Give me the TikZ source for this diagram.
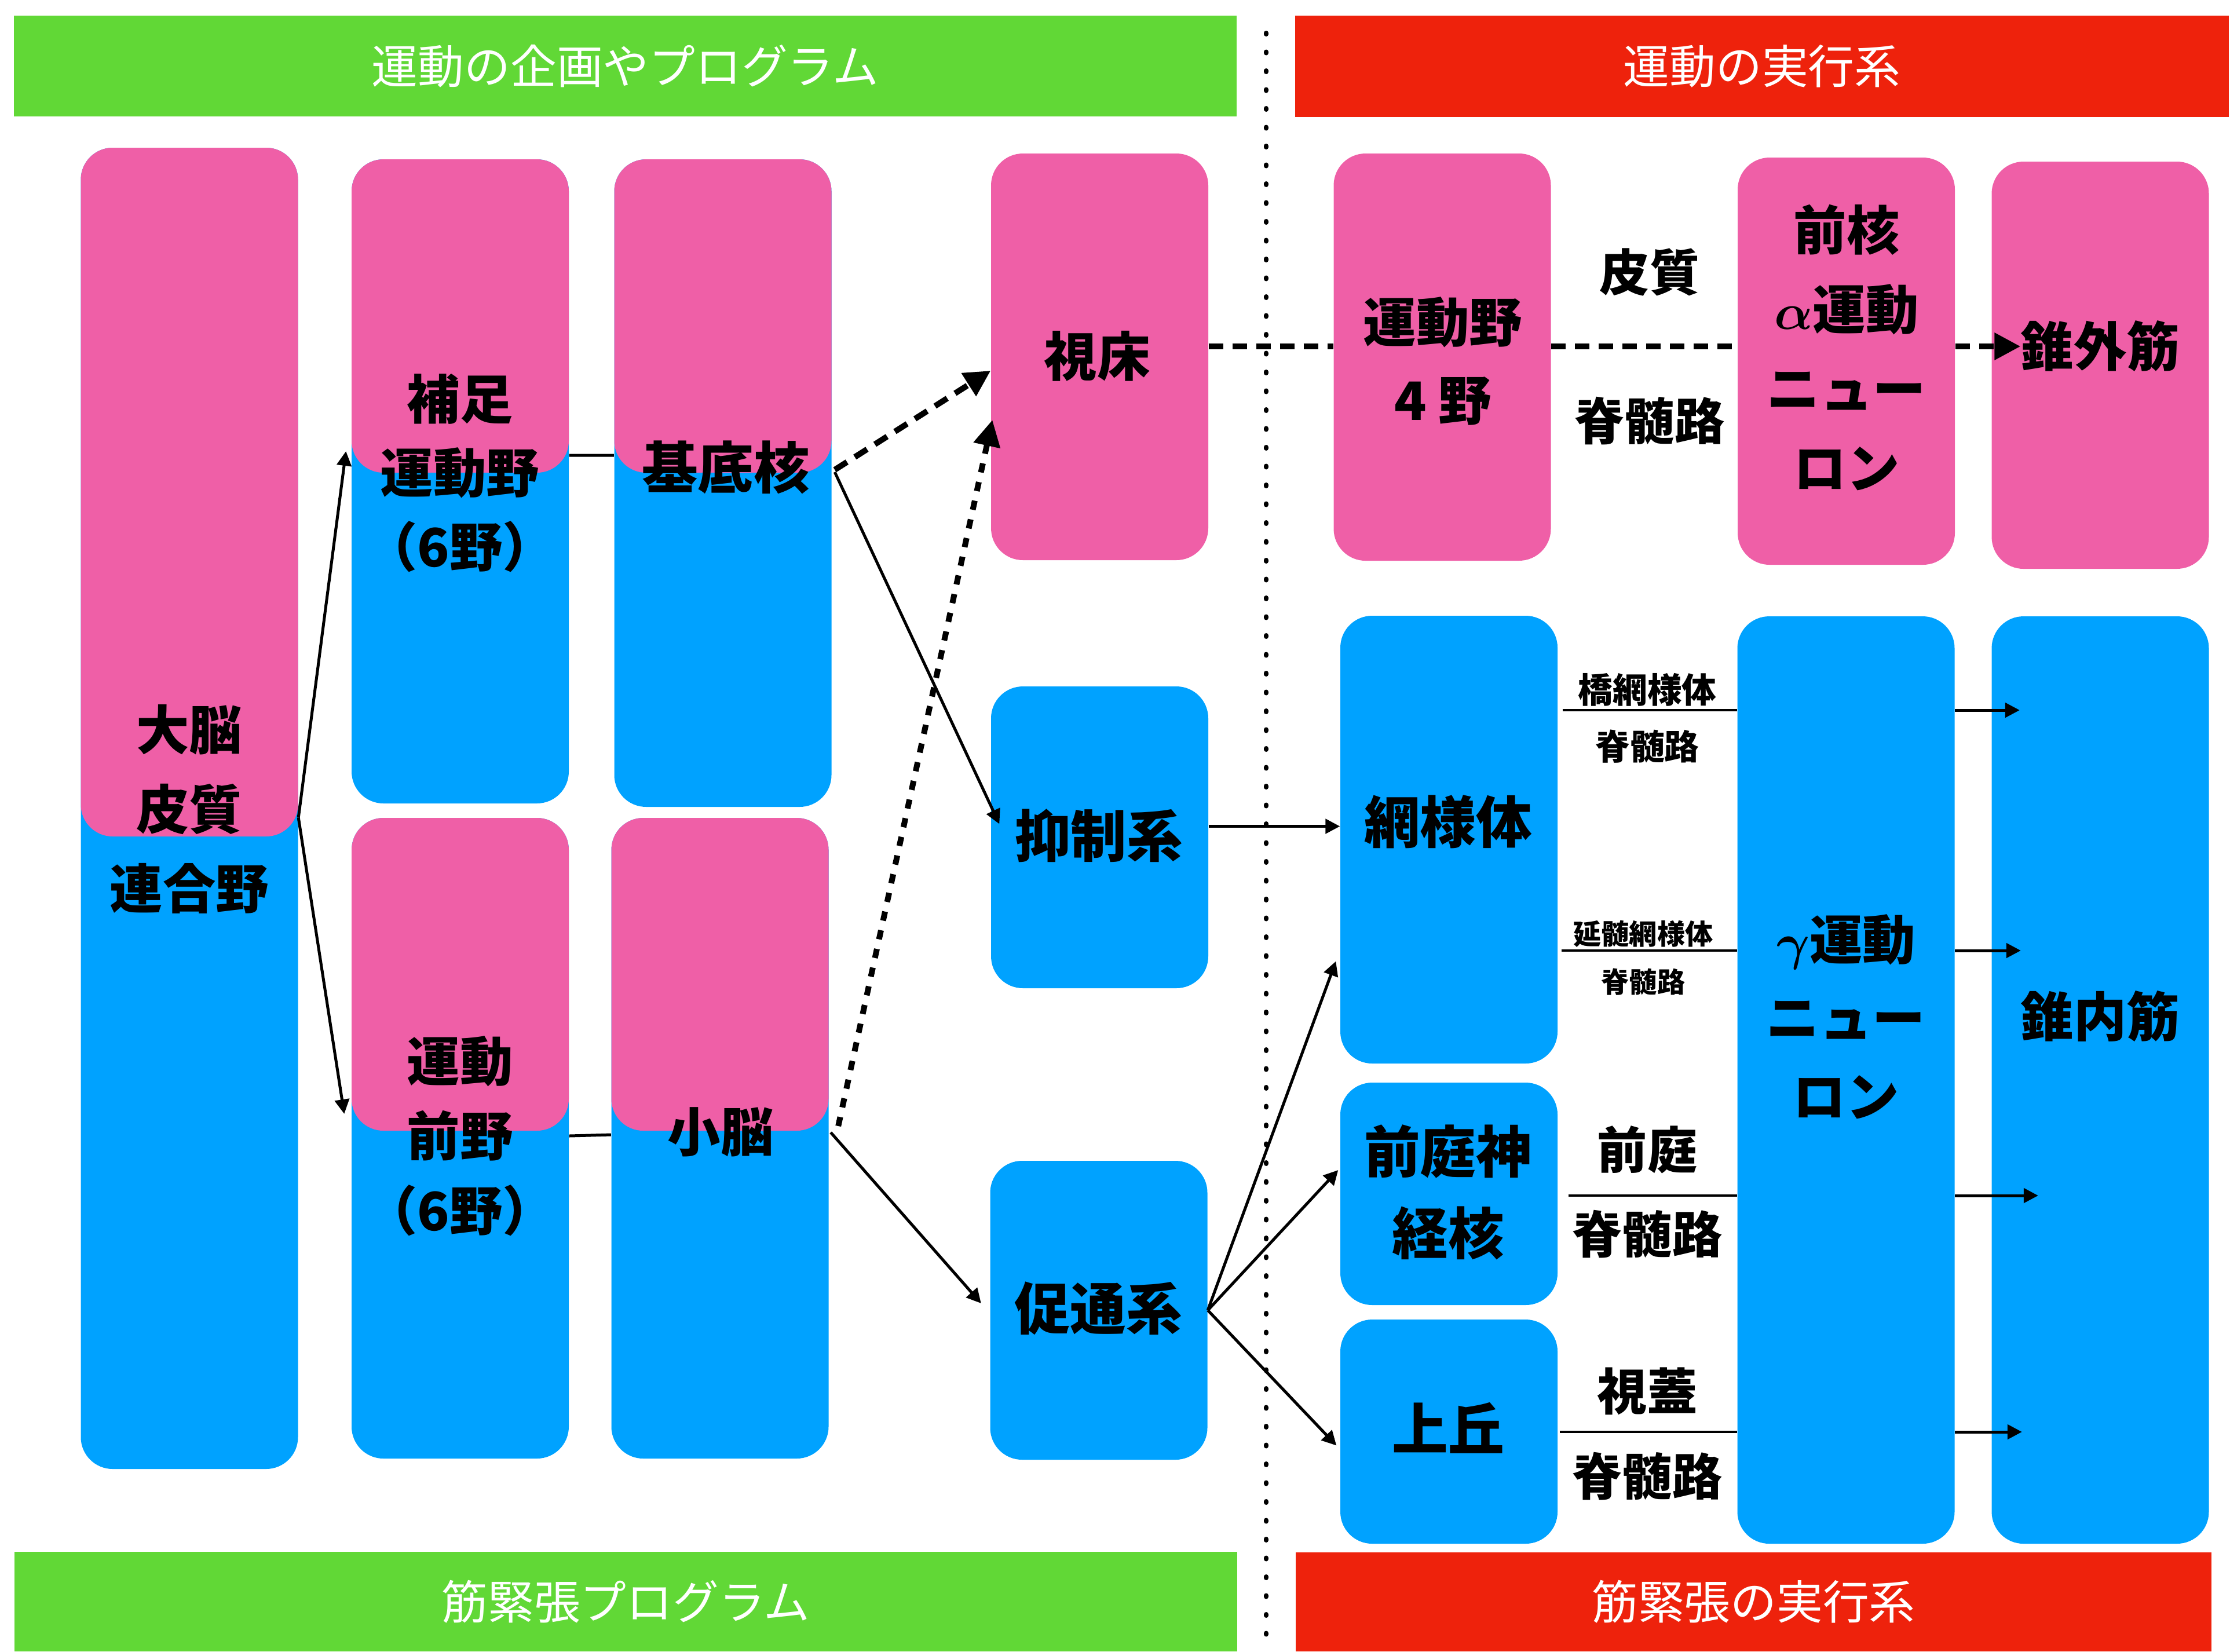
\documentclass[tikz,border=0pt]{standalone}
\usepackage{fontspec}
\usepackage{tikz}
\usetikzlibrary{arrows.meta}
\newfontfamily\jp{Noto Sans CJK JP}
\definecolor{pinkbox}{RGB}{239,95,167}
\definecolor{bluebox}{RGB}{0,162,255}
\definecolor{greenbar}{RGB}{97,216,54}
\definecolor{redbar}{RGB}{238,34,12}
\newcommand{\al}{{\boldmath$\alpha$}}
\newcommand{\ga}{{\boldmath$\gamma$}}

\tikzset{
  bx/.style={rounded corners=0.55cm, inner sep=0pt, minimum width=3.75cm},
  pinkbx/.style={bx, fill=pinkbox},
  bluebx/.style={bx, fill=bluebox},
  bar/.style={inner sep=0pt, text=white, font=\jp\fontsize{22.7}{27}\selectfont},
  lbl/.style={align=center, inner sep=0pt, font=\jp\bfseries\fontsize{26}{39}\selectfont},
  biglbl/.style={lbl, font=\jp\bfseries\fontsize{27.5}{40}\selectfont},
  trlbl/.style={lbl, font=\jp\bfseries\fontsize{24.5}{30}\selectfont},
  smlbl/.style={lbl, font=\jp\bfseries\fontsize{17}{20}\selectfont},
  tnlbl/.style={lbl, font=\jp\bfseries\fontsize{13.7}{16}\selectfont},
  arr/.style={line width=0.05cm, -{Triangle[length=0.25cm,width=0.25cm]}},
  tract/.style={line width=0.045cm},
  dashline/.style={line width=0.1cm, dash pattern=on 0.25cm off 0.16cm},
  dasharr/.style={dashline, -{Triangle[length=0.45cm,width=0.45cm]}},
  dotarr/.style={line width=0.1cm, dash pattern=on 0.16cm off 0.17cm, -{Triangle[length=0.45cm,width=0.45cm]}},
  sepline/.style={line width=0.08cm, line cap=round, dash pattern=on 0.02cm off 0.305cm}
}

\begin{document}
\begin{tikzpicture}
                \useasboundingbox (0,0) rectangle (38.5,-28.51);

                \node[bar, fill=greenbar, minimum width=21.11cm, minimum height=1.74cm] (plantop) at (10.795,-1.14) {運動の企画やプログラム};
                \node[bar, fill=redbar, minimum width=16.12cm, minimum height=1.75cm] (exectop) at (30.42,-1.145) {運動の実行系};
                \node[bar, fill=greenbar, minimum width=21.11cm, minimum height=1.72cm] (planbot) at (10.805,-27.65) {筋緊張プログラム};
                \node[bar, fill=redbar, minimum width=15.81cm, minimum height=1.71cm] (execbot) at (30.275,-27.655) {筋緊張の実行系};

                \coordinate (septop) at (21.86,-0.57);
                \coordinate (sepbot) at (21.86,-28.51);
                \draw[sepline] (septop) -- (sepbot);

                \node[bluebx, minimum height=22.81cm] (cortex) at (3.27,-13.955) {};
                \node[pinkbx, minimum height=11.89cm] (cortexP) at (3.27,-8.495) {};
                \node[bluebx, minimum height=11.12cm] (sma) at (7.945,-8.31) {};
                \node[pinkbx, minimum height=5.41cm] (smaP) at (7.945,-5.455) {};
                \node[bluebx, minimum height=11.18cm] (bg) at (12.48,-8.34) {};
                \node[pinkbx, minimum height=5.41cm] (bgP) at (12.48,-5.455) {};
                \node[bluebx, minimum height=11.06cm] (pm) at (7.945,-19.65) {};
                \node[pinkbx, minimum height=5.40cm] (pmP) at (7.945,-16.82) {};
                \node[bluebx, minimum height=11.06cm] (cb) at (12.43,-19.65) {};
                \node[pinkbx, minimum height=5.40cm] (cbP) at (12.43,-16.82) {};
                \node[pinkbx, minimum height=7.02cm] (thal) at (18.985,-6.16) {};
                \node[bluebx, minimum height=5.21cm] (inh) at (18.985,-14.455) {};
                \node[bluebx, minimum height=5.16cm] (fac) at (18.97,-22.62) {};
                \node[pinkbx, minimum height=7.03cm] (m1) at (24.90,-6.165) {};
                \node[pinkbx, minimum height=7.03cm] (alpha) at (31.875,-6.235) {};
                \node[pinkbx, minimum height=7.03cm] (extra) at (36.26,-6.305) {};
                \node[bluebx, minimum height=7.73cm] (ret) at (25.015,-14.495) {};
                \node[bluebx, minimum height=3.84cm] (vest) at (25.015,-20.61) {};
                \node[bluebx, minimum height=3.87cm] (sc) at (25.015,-24.715) {};
                \node[bluebx, minimum height=16.01cm] (gamma) at (31.87,-18.645) {};
                \node[bluebx, minimum height=16.01cm] (intra) at (36.26,-18.645) {};

                \node[lbl] (cortexT) at (3.27,-13.97) {大脳\\皮質\\連合野};
                \node[lbl, font=\jp\bfseries\fontsize{26}{36.3}\selectfont] (smaT) at (7.94,-8.165) {補足\\運動野\\（6野）};
                \node[biglbl] (bgT) at (12.53,-8.07) {基底核};
                \node[lbl, font=\jp\bfseries\fontsize{26}{36.7}\selectfont] (pmT) at (7.94,-19.61) {運動\\前野\\（6野）};
                \node[lbl] (cbT) at (12.44,-19.54) {小脳};
                \node[lbl] (thalT) at (18.94,-6.15) {視床};
                \node[biglbl] (inhT) at (18.97,-14.43) {抑制系};
                \node[biglbl] (facT) at (18.96,-22.59) {促通系};
                \node[lbl, font=\jp\bfseries\fontsize{26}{38.4}\selectfont] (m1T) at (24.91,-6.235) {運動野\\4 野};
                \node[lbl] (alphaT) at (31.88,-6.00) {前核\\\al 運動\\ニュー\\ロン};
                \node[lbl] (extlbl) at (36.26,-5.98) {錐外筋};
                \node[biglbl] (retT) at (25.00,-14.19) {網様体};
                \node[biglbl] (vestT) at (25.00,-20.585) {前庭神\\経核};
                \node[biglbl] (scT) at (25.00,-24.65) {上丘};
                \node[lbl, font=\jp\bfseries\fontsize{26}{38.5}\selectfont] (gammaT) at (31.87,-17.55) {\ga 運動\\ニュー\\ロン};
                \node[lbl] (intraT) at (36.26,-17.55) {錐内筋};

                \node[trlbl] (ctxU) at (28.48,-4.70) {皮質};
                \node[trlbl] (ctxL) at (28.48,-7.27) {脊髄路};
                \node[smlbl] (ponU) at (28.44,-11.91) {橋網様体};
                \node[smlbl] (ponL) at (28.44,-12.89) {脊髄路};
                \node[tnlbl] (medU) at (28.37,-16.12) {延髄網様体};
                \node[tnlbl] (medL) at (28.37,-16.95) {脊髄路};
                \node[trlbl] (vesU) at (28.44,-19.85) {前庭};
                \node[trlbl] (vesL) at (28.44,-21.31) {脊髄路};
                \node[trlbl] (tecU) at (28.44,-24.02) {視蓋};
                \node[trlbl] (tecL) at (28.44,-25.49) {脊髄路};

                \coordinate (tr1) at (28.44,-12.26);
                \coordinate (tr2) at (28.44,-16.41);
                \coordinate (tr3) at (28.44,-20.64);
                \coordinate (tr4) at (28.44,-24.72);

                \draw[arr] ([yshift=-0.16cm]cortex.east) -- ([shift={(-0.09,0.52)}]sma.west);
                \draw[arr] ([yshift=-0.16cm]cortex.east) -- ([shift={(-0.12,0.42)}]pm.west);
                \draw[line width=0.05cm] ([yshift=0.45cm]sma.east) -- ([yshift=0.48cm]bg.west);
                \draw[line width=0.05cm] ([yshift=0.04cm]pm.east) -- ([yshift=0.06cm]cb.west);
                \draw[dasharr] ([shift={(0.05,0.23)}]bg.east) -- ([yshift=-0.24cm]thal.west);
                \draw[arr] ([shift={(0.05,0.19)}]bg.east) -- ([shift={(0.15,0.23)}]inh.west);
                \draw[dotarr] ([shift={(0.16,0.21)}]cb.east) -- ([shift={(0.03,-1.09)}]thal.west);
                \draw[arr] ([shift={(0.03,0.10)}]cb.east) -- ([shift={(-0.15,0.12)}]fac.west);
                \draw[arr] ([yshift=0.19cm]inh.east) -- ([yshift=0.19cm]inh.east -| ret.west);
                \draw[arr] (fac.east) -- ([shift={(-0.07,-2.1)}]ret.west);
                \draw[arr] (fac.east) -- ([shift={(-0.03,0.41)}]vest.west);
                \draw[arr] (fac.east) -- ([shift={(-0.06,-0.24)}]sc.west);

                \draw[dashline] (thal.east |- extlbl) -- (m1.west |- extlbl);
                \draw[dashline] (m1.east |- extlbl) -- (alpha.west |- extlbl);
                \draw[dasharr] (alpha.east |- extlbl) -- (extlbl.west);

                \draw[tract] ([xshift=0.08cm]ret.east |- tr1) -- (gamma.west |- tr1);
                \draw[tract] ([xshift=0.06cm]ret.east |- tr2) -- (gamma.west |- tr2);
                \draw[tract] ([xshift=0.18cm]vest.east |- tr3) -- (gamma.west |- tr3);
                \draw[tract] ([xshift=0.03cm]sc.east |- tr4) -- (gamma.west |- tr4);
                \draw[arr] (gamma.east |- tr1) -- ([xshift=0.49cm]intra.west |- tr1);
                \draw[arr] (gamma.east |- tr2) -- ([xshift=0.51cm]intra.west |- tr2);
                \draw[arr] (gamma.east |- tr3) -- ([xshift=0.81cm]intra.west |- tr3);
                \draw[arr] (gamma.east |- tr4) -- ([xshift=0.53cm]intra.west |- tr4);
            \end{tikzpicture}
\end{document}
